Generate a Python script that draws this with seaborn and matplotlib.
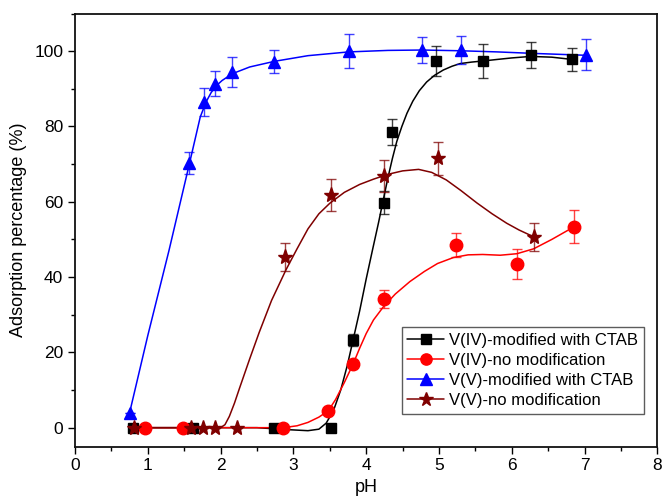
import matplotlib
matplotlib.use("Agg")
import matplotlib.pyplot as plt
from matplotlib.lines import Line2D
from matplotlib.ticker import MultipleLocator
import seaborn as sns
import pandas as pd

# ---- measured points ----
iv_mod_x = [0.80, 1.62, 2.74, 3.51, 3.82, 4.24, 4.36, 4.96, 5.61, 6.26, 6.83]
iv_mod_y = [0, 0, 0, 0, 23.3, 59.8, 78.6, 97.4, 97.4, 98.9, 97.8]
iv_mod_e = [0, 0, 0, 0, 1.5, 3.0, 3.5, 4.1, 4.4, 3.5, 3.0]

iv_no_x = [0.96, 1.49, 2.86, 3.48, 3.82, 4.24, 5.24, 6.07, 6.86]
iv_no_y = [0, 0, 0, 4.5, 16.9, 34.2, 48.5, 43.4, 53.4]
iv_no_e = [0, 0, 0, 0, 0, 2.3, 3.3, 4.0, 4.4]

v_mod_x = [0.75, 1.57, 1.77, 1.92, 2.16, 2.74, 3.76, 4.77, 5.30, 7.02]
v_mod_y = [4.0, 70.3, 86.5, 91.4, 94.5, 97.2, 100.0, 100.3, 100.3, 99.1]
v_mod_e = [0, 2.8, 3.6, 3.4, 3.9, 3.1, 4.5, 3.4, 3.8, 4.0]

v_no_x = [0.81, 1.59, 1.76, 1.92, 2.23, 2.89, 3.51, 4.24, 4.99, 6.30]
v_no_y = [0, 0, 0, 0, 0, 45.3, 61.8, 66.9, 71.5, 50.7]
v_no_e = [0, 0, 0, 0, 0, 3.7, 4.2, 4.3, 4.4, 3.7]

# ---- fitted curves ----
iv_mod_fit_x = [0.8, 2.5, 2.9, 3.2, 3.35, 3.45, 3.55, 3.65, 3.74, 3.82, 3.91, 4.0, 4.09,
                4.17, 4.24, 4.3, 4.36, 4.42, 4.49, 4.56, 4.64, 4.73, 4.83, 4.94, 5.06,
                5.18, 5.29, 5.45, 5.61, 5.8, 6.0, 6.26, 6.55, 6.83]
iv_mod_fit_y = [0, 0, -0.5, -0.8, -0.4, 1.2, 4.5, 10, 16.5, 23.3, 31, 39.5, 47.5,
                54.5, 61, 66.5, 71.5, 76, 80, 83.5, 86.7, 89.5, 91.8, 93.6, 95.0,
                96.0, 96.7, 97.1, 97.4, 97.8, 98.2, 98.6, 98.4, 97.8]

iv_no_fit_x = [0.96, 2.0, 2.86, 3.05, 3.2, 3.35, 3.48, 3.58, 3.7, 3.82, 3.91, 4.0, 4.1,
               4.24, 4.4, 4.6, 4.8, 4.98, 5.2, 5.4, 5.6, 5.84, 6.07, 6.3, 6.55, 6.86]
iv_no_fit_y = [0, 0, 0, 0.5, 1.4, 2.8, 4.5, 7.5, 12, 16.9, 21.1, 25, 28.6,
               32.2, 35.5, 38.8, 41.5, 43.6, 45.2, 45.9, 46.0, 45.8, 46.2, 47.5, 50, 53.4]

v_mod_fit_x = [0.75, 1.0, 1.29, 1.57, 1.72, 1.8, 1.87, 1.94, 2.02, 2.16, 2.4, 2.74, 3.2,
               3.76, 4.3, 4.77, 5.3, 5.8, 6.3, 7.02]
v_mod_fit_y = [4, 24.5, 47, 70, 82.5, 86.5, 89.0, 90.8, 92.2, 94, 95.8, 97.3, 98.8,
               99.8, 100.2, 100.3, 100.1, 99.8, 99.4, 98.9]

v_no_fit_x = [0.81, 1.5, 2.0, 2.06, 2.12, 2.19, 2.26, 2.4, 2.53, 2.7, 2.9, 3.05, 3.2,
              3.35, 3.5, 3.7, 3.91, 4.1, 4.3, 4.5, 4.72, 4.9, 5.1, 5.3, 5.52, 5.73,
              5.93, 6.1, 6.3]
v_no_fit_y = [0, 0, 0, 0.8, 3, 6.5, 10.5, 18.3, 25.3, 33.8, 42, 47.5, 52.8,
              56.8, 59.6, 62.5, 64.6, 66.0, 67.3, 68.2, 68.6, 67.8, 65.8, 63, 59.7, 56.8,
              54.3, 52.5, 50.7]

labels = ["V(IV)-modified with CTAB", "V(IV)-no modification",
          "V(V)-modified with CTAB", "V(V)-no modification"]
colors = ["#000000", "#FF0000", "#0000FF", "#7F0000"]
markers = ["s", "o", "^", "*"]
msizes = [7.5, 9, 9, 11]

sns.set_style("ticks")
plt.rcParams["font.family"] = ["Liberation Sans", "DejaVu Sans"]
plt.rcParams["text.color"] = "black"
plt.rcParams["axes.labelcolor"] = "black"
plt.rcParams["xtick.color"] = "black"
plt.rcParams["ytick.color"] = "black"

fig = plt.figure(figsize=(6.64, 5.0), dpi=100)
ax = fig.add_axes([0.113, 0.107, 0.877, 0.866])

series = [
    (iv_mod_x, iv_mod_y, iv_mod_e, iv_mod_fit_x, iv_mod_fit_y),
    (iv_no_x, iv_no_y, iv_no_e, iv_no_fit_x, iv_no_fit_y),
    (v_mod_x, v_mod_y, v_mod_e, v_mod_fit_x, v_mod_fit_y),
    (v_no_x, v_no_y, v_no_e, v_no_fit_x, v_no_fit_y),
]

for (px, py, pe, fx, fy), lab, c, m, ms in zip(series, labels, colors, markers, msizes):
    fit = pd.DataFrame({"pH": fx, "val": fy})
    sns.lineplot(data=fit, x="pH", y="val", ax=ax, color=c, lw=1.1, sort=False,
                 estimator=None, legend=False)
    ax.errorbar(px, py, yerr=pe, fmt="none", ecolor=c, elinewidth=1.0,
                capsize=3.5, capthick=1.0, alpha=0.75, zorder=3)
    ax.plot(px, py, ls="none", marker=m, ms=ms, color=c, mec=c, zorder=4)

ax.set_xlim(0, 8)
ax.set_ylim(-5, 110)
ax.xaxis.set_major_locator(MultipleLocator(1))
ax.xaxis.set_minor_locator(MultipleLocator(0.5))
ax.yaxis.set_major_locator(MultipleLocator(20))
ax.yaxis.set_minor_locator(MultipleLocator(10))
ax.tick_params(which="major", direction="out", length=5, width=1, labelsize=12.5,
               top=False, right=False, colors="black")
ax.tick_params(which="minor", direction="out", length=3, width=1, top=False, right=False)
for s in ax.spines.values():
    s.set_linewidth(1.3)
    s.set_color("#111111")

ax.set_xlabel("pH", fontsize=13, labelpad=4)
ax.set_ylabel("Adsorption percentage (%)", fontsize=13, labelpad=5)

handles = [Line2D([0], [0], color=c, marker=m, ms=ms * 0.9, lw=1.1)
           for c, m, ms in zip(colors, markers, msizes)]
leg = ax.legend(handles, labels, loc="lower right", bbox_to_anchor=(0.977, 0.075),
                fontsize=12, frameon=True, fancybox=False, handlelength=2.2,
                handletextpad=0.3, borderpad=0.35, labelspacing=0.3,
                borderaxespad=0)
leg.get_frame().set_edgecolor("#333333")
leg.get_frame().set_linewidth(1.0)

fig.savefig("out.png", dpi=100)
